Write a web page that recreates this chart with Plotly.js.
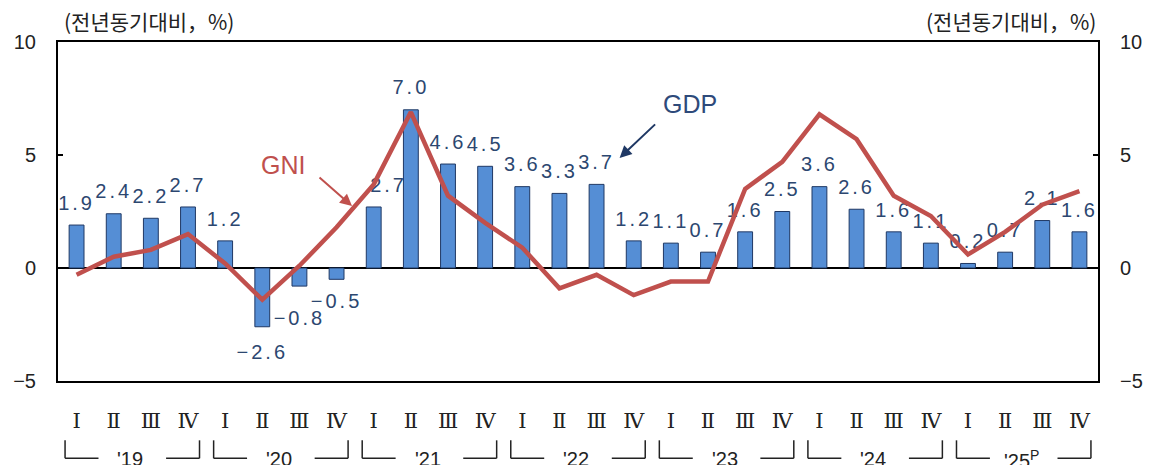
<!DOCTYPE html>
<html>
<head>
<meta charset="utf-8">
<script src="https://cdn.plot.ly/plotly-3.0.1.min.js"></script>
<style>
  html, body { margin: 0; padding: 0; background: #fff; }
  #chart { width: 1157px; height: 465px; }
  .textpoint text { letter-spacing: 3px; }
</style>
</head>
<body>
<div id="chart"></div>
<script>
// ---- data ----
const years = ["'19", "'20", "'21", "'22", "'23", "'24", "'25<sup>P</sup>"];
const quarterNames = ["Ⅰ", "Ⅱ", "Ⅲ", "Ⅳ"];
const gdp = [1.9, 2.4, 2.2, 2.7, 1.2, -2.6, -0.8, -0.5, 2.7, 7.0, 4.6, 4.5, 3.6, 3.3, 3.7, 1.2,
             1.1, 0.7, 1.6, 2.5, 3.6, 2.6, 1.6, 1.1, 0.2, 0.7, 2.1, 1.6];
const gni = [-0.3, 0.5, 0.8, 1.5, 0.2, -1.4, 0.1, 1.8, 3.7, 6.9, 3.2, 2.0, 0.9, -0.9, -0.3, -1.2,
             -0.6, -0.6, 3.5, 4.7, 6.8, 5.7, 3.2, 2.3, 0.6, 1.6, 2.8, 3.4];
const unitLabel = "(전년동기대비，%)";

// ---- derived ----
const idx = gdp.map((_, i) => i);
const tickText = [];
years.forEach(() => quarterNames.forEach(q => tickText.push(q)));
const fmt = v => v.toFixed(1).replace('-', '\u2212');

// label placement (style only)
const labelUp = 0.9, labelDown = 1.2;
const labelShiftX = {8: 0.4};
const labelShiftY = {6: -0.3, 7: 0.15};
const labX = idx.map(i => i + (labelShiftX[i] || 0));
const labY = gdp.map((v, i) => (v >= 0 ? v + labelUp : v - labelDown) + (labelShiftY[i] || 0));

const navy = '#1F3864';
const labelColor = '#2C4770';
const red = '#C0504D';

const traces = [
  {
    type: 'bar', x: idx, y: gdp, width: 0.4,
    marker: {color: '#558ED5', line: {color: navy, width: 1}},
    hoverinfo: 'skip', showlegend: false
  },
  {
    type: 'scatter', mode: 'text', x: labX, y: labY, text: gdp.map(fmt),
    textposition: 'middle center',
    textfont: {family: 'Liberation Sans, Arial, sans-serif', size: 20, color: labelColor},
    hoverinfo: 'skip', showlegend: false, cliponaxis: false
  },
  {
    type: 'scatter', mode: 'lines', x: idx, y: gni,
    line: {color: red, width: 4.5},
    hoverinfo: 'skip', showlegend: false
  },
  { // dummy for right axis
    type: 'scatter', mode: 'lines', x: [0], y: [0], yaxis: 'y2',
    line: {width: 0}, hoverinfo: 'skip', showlegend: false
  }
];

const shapes = [];
const annotations = [];
const yTop = -0.175, yBot = -0.228;
years.forEach((yr, k) => {
  const s = 4 * k;
  const L = s - 0.31, R = s + 3.31;
  const lineStyle = {color: '#222', width: 1.5};
  shapes.push({type: 'line', xref: 'x', yref: 'paper', x0: L, x1: L, y0: yTop, y1: yBot, line: lineStyle});
  shapes.push({type: 'line', xref: 'x', yref: 'paper', x0: L, x1: L + 0.9, y0: yBot, y1: yBot, line: lineStyle});
  shapes.push({type: 'line', xref: 'x', yref: 'paper', x0: R, x1: R, y0: yTop, y1: yBot, line: lineStyle});
  shapes.push({type: 'line', xref: 'x', yref: 'paper', x0: R - 0.9, x1: R, y0: yBot, y1: yBot, line: lineStyle});
  annotations.push({
    xref: 'x', yref: 'paper', x: s + 1.45, y: yBot, yshift: -1, text: yr, showarrow: false,
    xanchor: 'center', yanchor: 'middle',
    font: {family: 'Liberation Sans, Arial, sans-serif', size: 20, color: '#222'}
  });
});

// unit labels
annotations.push({xref: 'paper', yref: 'paper', x: 0.004, y: 1.0, yshift: 21, text: unitLabel,
  showarrow: false, xanchor: 'left', yanchor: 'middle',
  font: {family: 'Noto Sans CJK KR, sans-serif', size: 21, color: '#222'}});
annotations.push({xref: 'paper', yref: 'paper', x: 1.0, y: 1.0, yshift: 21, text: unitLabel,
  showarrow: false, xanchor: 'right', yanchor: 'middle',
  font: {family: 'Noto Sans CJK KR, sans-serif', size: 21, color: '#222'}});

// series name callouts
annotations.push({xref: 'paper', yref: 'paper', x: 0.2163, y: 0.637, text: 'GNI', showarrow: false,
  xanchor: 'center', yanchor: 'middle',
  font: {family: 'Liberation Sans, Arial, sans-serif', size: 25, color: red}});
annotations.push({xref: 'paper', yref: 'paper', x: 0.2827, y: 0.516, text: '', showarrow: true,
  ax: -34, ay: -30, arrowhead: 2, arrowsize: 1.2, arrowwidth: 2, arrowcolor: red});
annotations.push({xref: 'paper', yref: 'paper', x: 0.6077, y: 0.817, text: 'GDP', showarrow: false,
  xanchor: 'center', yanchor: 'middle',
  font: {family: 'Liberation Sans, Arial, sans-serif', size: 25, color: '#2E4A7A'}});
annotations.push({xref: 'paper', yref: 'paper', x: 0.540, y: 0.658, text: '', showarrow: true,
  ax: 37, ay: -35, arrowhead: 2, arrowsize: 1.2, arrowwidth: 2, arrowcolor: navy});

const yAxisCommon = {
  range: [-5, 10], tickvals: [-5, 0, 5, 10], ticks: 'inside', ticklen: 5, tickwidth: 1.5,
  tickcolor: '#000', showgrid: false, showline: true, linecolor: '#000', linewidth: 2,
  tickfont: {family: 'Liberation Sans, Arial, sans-serif', size: 20, color: '#222'},
  fixedrange: true
};

const layout = {
  width: 1157, height: 465,
  margin: {l: 58, r: 59, t: 42, b: 84},
  paper_bgcolor: '#fff', plot_bgcolor: '#fff',
  bargap: 0,
  xaxis: {
    range: [-0.5, 27.5], tickvals: idx, ticktext: tickText, ticks: '',
    showgrid: false, zeroline: false, showline: true, mirror: true,
    linecolor: '#000', linewidth: 2, ticklabelstandoff: 20,
    tickfont: {family: 'DejaVu Serif, serif', size: 21, color: '#222'},
    fixedrange: true
  },
  yaxis: Object.assign({}, yAxisCommon, {
    zeroline: true, zerolinecolor: '#000', zerolinewidth: 1.5, ticklabelstandoff: 16
  }),
  yaxis2: Object.assign({}, yAxisCommon, {
    overlaying: 'y', side: 'right', zeroline: false, ticklabelstandoff: 16
  }),
  shapes: shapes,
  annotations: annotations,
  showlegend: false
};

Plotly.newPlot('chart', traces, layout, {staticPlot: true, displayModeBar: false});
</script>
</body>
</html>
